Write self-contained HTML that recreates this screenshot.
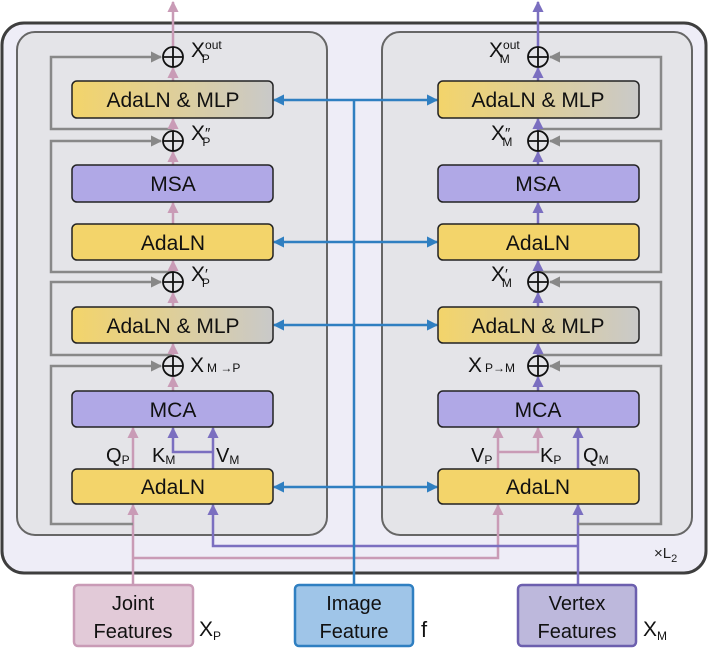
<!DOCTYPE html>
<html><head><meta charset="utf-8"><style>
html,body{margin:0;padding:0;background:#fff;}
svg{display:block;font-family:"Liberation Sans",sans-serif;}
</style></head><body>
<svg width="708" height="648" viewBox="0 0 708 648" xmlns="http://www.w3.org/2000/svg">
<defs>
<marker id="ap" viewBox="0 0 10 10" refX="9" refY="5" markerWidth="4.5" markerHeight="4.5" orient="auto"><path d="M0,0L10,5L0,10z" fill="#c99bb6"/></marker>
<marker id="am" viewBox="0 0 10 10" refX="9" refY="5" markerWidth="4.5" markerHeight="4.5" orient="auto"><path d="M0,0L10,5L0,10z" fill="#7b6fc0"/></marker>
<marker id="ag" viewBox="0 0 10 10" refX="9" refY="5" markerWidth="4.5" markerHeight="4.5" orient="auto"><path d="M0,0L10,5L0,10z" fill="#888"/></marker>
<marker id="ab" viewBox="0 0 10 10" refX="9" refY="5" markerWidth="4.5" markerHeight="4.5" orient="auto"><path d="M0,0L10,5L0,10z" fill="#2f7fc1"/></marker>
<linearGradient id="gr" x1="0" x2="1" y1="0" y2="0"><stop offset="0" stop-color="#f3d46a"/><stop offset="1" stop-color="#c9c9c9"/></linearGradient>
</defs>
<rect x="2" y="23" width="704" height="550" rx="22" fill="#eeedf7" stroke="#3e3e3e" stroke-width="3"/>
<rect x="17" y="32" width="310" height="503" rx="18" fill="#e4e4e8" stroke="#666" stroke-width="2"/>
<rect x="382" y="32" width="310" height="503" rx="18" fill="#e4e4e8" stroke="#666" stroke-width="2"/>
<text x="654" y="558" font-size="15" fill="#222">×L<tspan font-size="11" dy="4">2</tspan></text>

<g fill="none" stroke-width="2.5">
<path d="M133 585V505" stroke="#c99bb6" marker-end="url(#ap)"/>
<path d="M133 558H498V505" stroke="#c99bb6" marker-end="url(#ap)"/>
<path d="M578 585V505" stroke="#7b6fc0" marker-end="url(#am)"/>
<path d="M578 546H213V505" stroke="#7b6fc0" marker-end="url(#am)"/>
<path d="M133 469V428" stroke="#c99bb6" marker-end="url(#ap)"/>
<path d="M213 469V428" stroke="#7b6fc0" marker-end="url(#am)"/>
<path d="M213 452H173V428" stroke="#7b6fc0" marker-end="url(#am)"/>
<path d="M498 469V428" stroke="#c99bb6" marker-end="url(#ap)"/>
<path d="M498 452H538V428" stroke="#c99bb6" marker-end="url(#ap)"/>
<path d="M578 469V428" stroke="#7b6fc0" marker-end="url(#am)"/>
<g stroke="#888">
<path d="M133 524H51V366H161" marker-end="url(#ag)"/>
<path d="M173 355H51V282H161" marker-end="url(#ag)"/>
<path d="M173 272H51V141H161" marker-end="url(#ag)"/>
<path d="M173 129H51V57H161" marker-end="url(#ag)"/>
<path d="M578 524H661V366H550" marker-end="url(#ag)"/>
<path d="M538 355H661V282H550" marker-end="url(#ag)"/>
<path d="M538 272H661V141H550" marker-end="url(#ag)"/>
<path d="M538 129H661V57H550" marker-end="url(#ag)"/>
</g>
<g stroke="#c99bb6">
<path d="M173 391V377" marker-end="url(#ap)"/>
<path d="M173 356V344" marker-end="url(#ap)"/>
<path d="M173 307V293" marker-end="url(#ap)"/>
<path d="M173 272V261" marker-end="url(#ap)"/>
<path d="M173 224V203" marker-end="url(#ap)"/>
<path d="M173 165V152" marker-end="url(#ap)"/>
<path d="M173 131V119" marker-end="url(#ap)"/>
<path d="M173 81V68" marker-end="url(#ap)"/>
<path d="M173 47V2" marker-end="url(#ap)"/>
</g>
<g stroke="#7b6fc0">
<path d="M538 391V377" marker-end="url(#am)"/>
<path d="M538 356V344" marker-end="url(#am)"/>
<path d="M538 307V293" marker-end="url(#am)"/>
<path d="M538 272V261" marker-end="url(#am)"/>
<path d="M538 224V203" marker-end="url(#am)"/>
<path d="M538 165V152" marker-end="url(#am)"/>
<path d="M538 131V119" marker-end="url(#am)"/>
<path d="M538 81V68" marker-end="url(#am)"/>
<path d="M538 47V2" marker-end="url(#am)"/>
</g>
<g stroke="#2f7fc1">
<path d="M354 585V100"/>
<path d="M354 100H274" marker-end="url(#ab)"/><path d="M354 100H437" marker-end="url(#ab)"/>
<path d="M354 242H274" marker-end="url(#ab)"/><path d="M354 242H437" marker-end="url(#ab)"/>
<path d="M354 325H274" marker-end="url(#ab)"/><path d="M354 325H437" marker-end="url(#ab)"/>
<path d="M354 487H274" marker-end="url(#ab)"/><path d="M354 487H437" marker-end="url(#ab)"/>
</g>
</g>

<g stroke="#222" stroke-width="1.5">
<rect x="72" y="81" width="201" height="37" rx="5" fill="url(#gr)"/>
<rect x="72" y="165" width="201" height="37" rx="5" fill="#b0a8e6"/>
<rect x="72" y="224" width="201" height="36" rx="5" fill="#f3d46a"/>
<rect x="72" y="307" width="201" height="36" rx="5" fill="url(#gr)"/>
<rect x="72" y="391" width="201" height="36" rx="5" fill="#b0a8e6"/>
<rect x="72" y="469" width="201" height="35" rx="5" fill="#f3d46a"/>
<rect x="438" y="81" width="201" height="37" rx="5" fill="url(#gr)"/>
<rect x="438" y="165" width="201" height="37" rx="5" fill="#b0a8e6"/>
<rect x="438" y="224" width="201" height="36" rx="5" fill="#f3d46a"/>
<rect x="438" y="307" width="201" height="36" rx="5" fill="url(#gr)"/>
<rect x="438" y="391" width="201" height="36" rx="5" fill="#b0a8e6"/>
<rect x="438" y="469" width="201" height="35" rx="5" fill="#f3d46a"/>
</g>
<g font-size="21" text-anchor="middle" fill="#111">
<text x="173" y="107">AdaLN &amp; MLP</text>
<text x="173" y="191">MSA</text>
<text x="173" y="250">AdaLN</text>
<text x="173" y="333">AdaLN &amp; MLP</text>
<text x="173" y="417">MCA</text>
<text x="173" y="494">AdaLN</text>
<text x="538" y="107">AdaLN &amp; MLP</text>
<text x="538" y="191">MSA</text>
<text x="538" y="250">AdaLN</text>
<text x="538" y="333">AdaLN &amp; MLP</text>
<text x="538" y="417">MCA</text>
<text x="538" y="494">AdaLN</text>
</g>
<g fill="none" stroke="#111" stroke-width="1.8">
<g><circle cx="173" cy="57" r="10"/><path d="M163 57H183M173 47V67"/></g>
<g><circle cx="173" cy="141" r="10"/><path d="M163 141H183M173 131V151"/></g>
<g><circle cx="173" cy="282" r="10"/><path d="M163 282H183M173 272V292"/></g>
<g><circle cx="173" cy="366" r="10"/><path d="M163 366H183M173 356V376"/></g>
<g><circle cx="538" cy="57" r="10"/><path d="M528 57H548M538 47V67"/></g>
<g><circle cx="538" cy="141" r="10"/><path d="M528 141H548M538 131V151"/></g>
<g><circle cx="538" cy="282" r="10"/><path d="M528 282H548M538 272V292"/></g>
<g><circle cx="538" cy="366" r="10"/><path d="M528 366H548M538 356V376"/></g>
</g>
<g font-size="21" fill="#111">
<text x="191" y="57">X<tspan font-size="12" dx="0" dy="-8">out</tspan><tspan font-size="12" dx="-20" dy="14">P</tspan></text>
<text x="191" y="140">X<tspan font-size="15" dy="-2">″</tspan><tspan font-size="12" dx="-8" dy="8">P</tspan></text>
<text x="191" y="281">X<tspan font-size="15" dy="-2">′</tspan><tspan font-size="12" dx="-6" dy="8">P</tspan></text>
<text x="190" y="372">X<tspan font-size="12" dx="3">M →P</tspan></text>
<text x="489" y="57">X<tspan font-size="12" dx="0" dy="-8">out</tspan><tspan font-size="12" dx="-20" dy="14">M</tspan></text>
<text x="491" y="140">X<tspan font-size="15" dy="-2">″</tspan><tspan font-size="12" dx="-8" dy="8">M</tspan></text>
<text x="491" y="281">X<tspan font-size="15" dy="-2">′</tspan><tspan font-size="12" dx="-6" dy="8">M</tspan></text>
<text x="468" y="372">X<tspan font-size="12" dx="3">P→M</tspan></text>
</g>
<g font-size="20" fill="#111">
<text x="106" y="462">Q<tspan font-size="12" dy="2">P</tspan></text>
<text x="152" y="462">K<tspan font-size="12" dy="2">M</tspan></text>
<text x="216" y="462">V<tspan font-size="12" dy="2">M</tspan></text>
<text x="471" y="462">V<tspan font-size="12" dy="2">P</tspan></text>
<text x="540" y="462">K<tspan font-size="12" dy="2">P</tspan></text>
<text x="583" y="462">Q<tspan font-size="12" dy="2">M</tspan></text>
</g>
<rect x="74" y="585" width="119" height="61" rx="4" fill="#e2cad8" stroke="#c99bb6" stroke-width="2.5"/>
<rect x="295" y="585" width="118" height="61" rx="4" fill="#9fc5e8" stroke="#2f7fc1" stroke-width="2.5"/>
<rect x="518" y="585" width="118" height="61" rx="4" fill="#bdb8dc" stroke="#6c5fae" stroke-width="2.5"/>
<g font-size="20" fill="#111" text-anchor="middle">
<text x="133" y="610">Joint</text><text x="133" y="638">Features</text>
<text x="354" y="610">Image</text><text x="354" y="638">Feature</text>
<text x="577" y="610">Vertex</text><text x="577" y="638">Features</text>
</g>
<g font-size="21" fill="#111">
<text x="199" y="636">X<tspan font-size="12" dy="4">P</tspan></text>
<text x="421" y="637" font-size="22">f</text>
<text x="643" y="636">X<tspan font-size="12" dy="4">M</tspan></text>
</g>
</svg>
</body></html>
